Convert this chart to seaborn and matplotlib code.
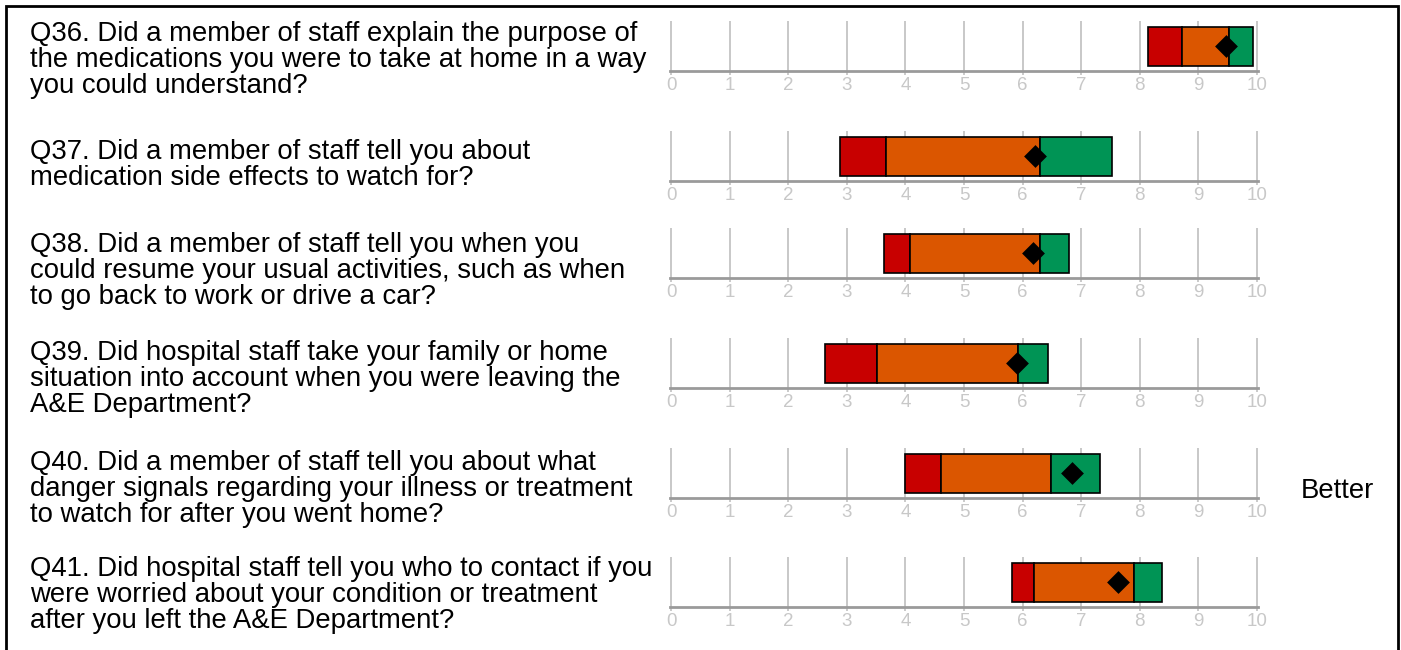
import numpy as np
import matplotlib
matplotlib.use("Agg")
import matplotlib.pyplot as plt
from matplotlib.patches import Rectangle
import seaborn as sns

# question texts, one per row
questions = [
    "Q36. Did a member of staff explain the purpose of\nthe medications you were to take at home in a way\nyou could understand?",
    "Q37. Did a member of staff tell you about\nmedication side effects to watch for?",
    "Q38. Did a member of staff tell you when you\ncould resume your usual activities, such as when\nto go back to work or drive a car?",
    "Q39. Did hospital staff take your family or home\nsituation into account when you were leaving the\nA&E Department?",
    "Q40. Did a member of staff tell you about what\ndanger signals regarding your illness or treatment\nto watch for after you went home?",
    "Q41. Did hospital staff tell you who to contact if you\nwere worried about your condition or treatment\nafter you left the A&E Department?",
]

# band edges (score scale 0-10)
red_start = [8.15, 2.88, 3.64, 2.63, 4.00, 5.82]
red_end = [8.73, 3.66, 4.08, 3.51, 4.60, 6.19]
orange_end = [9.53, 6.29, 6.30, 5.93, 6.48, 7.90]
green_end = [9.93, 7.53, 6.79, 6.44, 7.32, 8.38]
trust_score = [9.47, 6.22, 6.17, 5.90, 6.84, 7.63]
tick_values = list(range(11))

RED, ORANGE, GREEN = "#c80000", "#db5600", "#009455"

sns.set_theme(style="white")
plt.rcParams["font.family"] = ["Liberation Sans", "DejaVu Sans"]

W, H = 1401, 650
fig = plt.figure(figsize=(W / 100, H / 100), dpi=100)
fig.patch.set_facecolor("white")

# pixel layout: axis line of each row, text centre of each row
axis_y = [71, 181, 278, 388, 498, 607]
text_y = [60, 165, 271, 379, 489, 595]
x0, x1 = 670, 1258
panel_h = 50

for i, q in enumerate(questions):
    ay = axis_y[i]
    ax = fig.add_axes([x0 / W, (H - ay) / H, (x1 - x0) / W, panel_h / H])
    yc, bh = 0.495, 0.77
    segs = [(red_start[i], red_end[i], RED),
            (red_end[i], orange_end[i], ORANGE),
            (orange_end[i], green_end[i], GREEN)]
    for lo, hi, col in segs:
        ax.barh(yc, hi - lo, left=lo, height=bh, color=col,
                edgecolor="black", linewidth=1.2, zorder=3)
    sns.scatterplot(x=[trust_score[i]], y=[yc], marker="D", s=135,
                    color="black", linewidth=0, ax=ax, zorder=5)
    ax.set_xlim(-0.02, 10.02)
    ax.set_ylim(0, 1)
    ax.set_xticks(tick_values)
    ax.set_xticklabels([str(t) for t in tick_values])
    ax.set_yticks([])
    ax.set_xlabel("")
    ax.set_ylabel("")
    ax.grid(axis="x", color="#c4c4c4", linewidth=1.3, zorder=0)
    ax.set_axisbelow(True)
    for s in ["top", "left", "right"]:
        ax.spines[s].set_visible(False)
    ax.spines["bottom"].set_color("#9a9a9a")
    ax.spines["bottom"].set_linewidth(2)
    ax.tick_params(axis="x", bottom=True, direction="out", length=3,
                   color="#c4c4c4", labelcolor="#c8c8c8", labelsize=13.5, pad=1)
    ax.set_facecolor("none")

    fig.text(30 / W, 1 - text_y[i] / H, q, ha="left", va="center",
             fontsize=19.8, linespacing=1.0, color="black")

fig.text(1301 / W, 1 - 491 / H, "Better", ha="left", va="center", fontsize=19.8,
         color="black")

fig.add_artist(Rectangle((6 / W, -0.1), (1398 - 6) / W, (H - 6) / H + 0.1,
                         transform=fig.transFigure, fill=False,
                         edgecolor="black", linewidth=2))

fig.savefig("out.png", dpi=100)
